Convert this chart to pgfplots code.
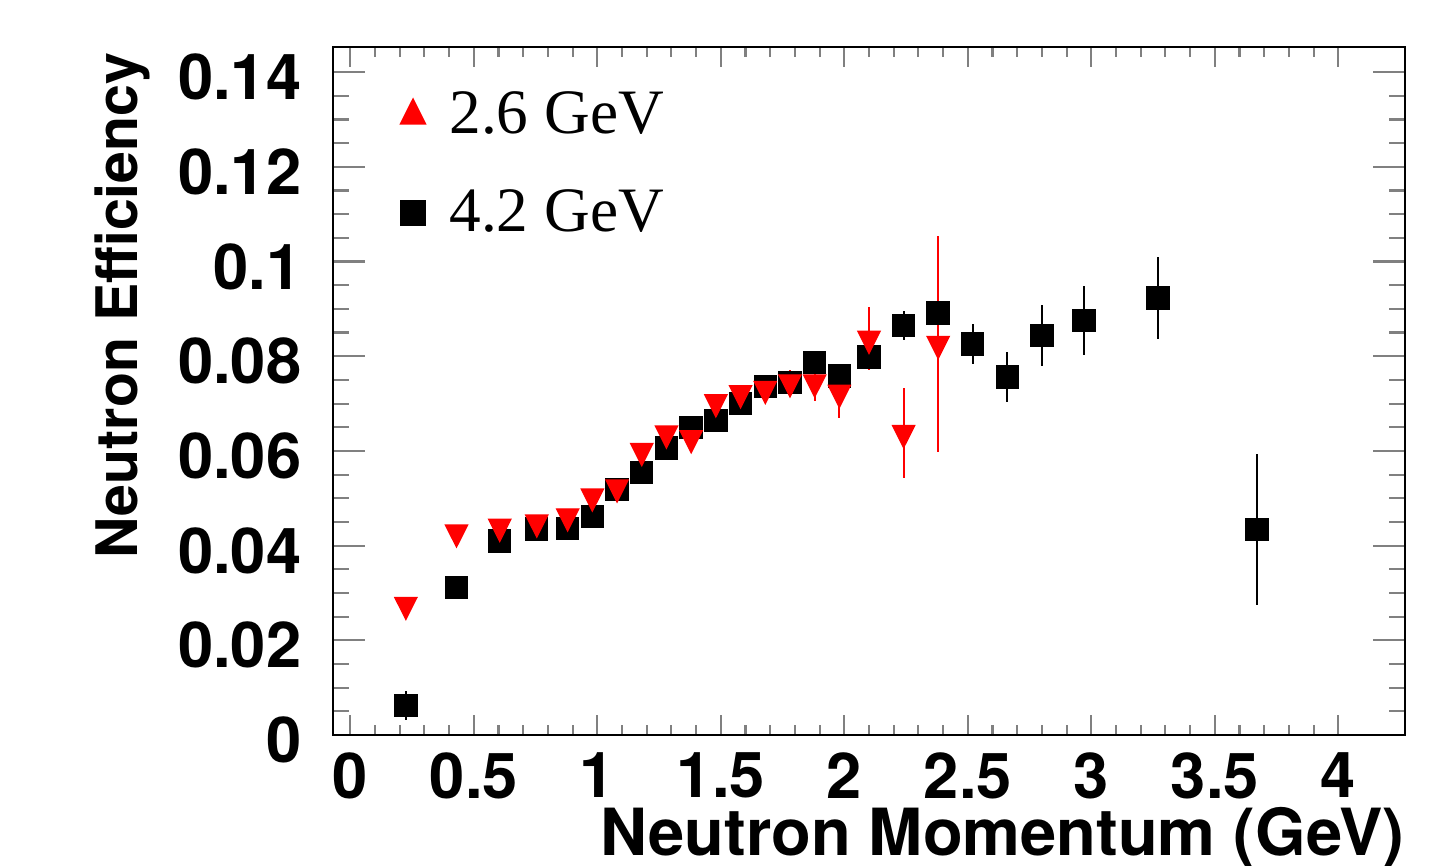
\documentclass[border=0pt]{standalone}
\usepackage{fontspec}
\setmainfont{Liberation Serif}
\setsansfont{TeX Gyre Heros}
\usepackage{pgfplots}
\pgfplotsset{compat=1.18}

\newcommand\lab{\fontsize{18}{21}\selectfont\sffamily\bfseries}

% 4.2 GeV beam
\pgfplotstableread{
x     y       e
0.225 0.0062  0.0030
0.43  0.0311  0.0010
0.605 0.0410  0.0010
0.755 0.0435  0.0010
0.88  0.0436  0.0010
0.98  0.0462  0.0010
1.08  0.0519  0.0010
1.18  0.0554  0.0010
1.28  0.0606  0.0010
1.38  0.0649  0.0010
1.48  0.0664  0.0010
1.58  0.0700  0.0010
1.68  0.0736  0.0010
1.78  0.0745  0.0015
1.88  0.0787  0.0015
1.98  0.0758  0.0020
2.10  0.0798  0.0025
2.24  0.0865  0.0030
2.38  0.0891  0.0030
2.52  0.0826  0.0043
2.66  0.0756  0.0052
2.80  0.0844  0.0065
2.97  0.0875  0.0073
3.27  0.0923  0.0087
3.67  0.0434  0.0160
}\highE

% 2.6 GeV beam
\pgfplotstableread{
x     y       e
0.225 0.0275  0.0010
0.43  0.0428  0.0010
0.605 0.0440  0.0010
0.755 0.0449  0.0010
0.88  0.0462  0.0010
0.98  0.0504  0.0010
1.08  0.0523  0.0010
1.18  0.0600  0.0010
1.28  0.0637  0.0010
1.38  0.0627  0.0010
1.48  0.0703  0.0010
1.58  0.0722  0.0012
1.68  0.0731  0.0020
1.78  0.0745  0.0025
1.88  0.0745  0.0040
1.98  0.0723  0.0053
2.10  0.0837  0.0066
2.24  0.0638  0.0095
2.38  0.0826  0.0228
}\lowE

\begin{document}
\begin{tikzpicture}
\path[use as bounding box] (-3.33,-1.30) rectangle (11.11,7.35);
\begin{axis}[
  at={(0,0)}, anchor=south west,
  scale only axis, width=10.72cm, height=6.88cm,
  xmin=-0.07, xmax=4.27, ymin=0, ymax=0.1453,
  xtick={0,0.5,1,1.5,2,2.5,3,3.5,4},
  xticklabels={0,0.5,1,1.5,2,2.5,3,3.5,4},
  ytick={0,0.02,0.04,0.06,0.08,0.1,0.12,0.14},
  yticklabels={0,0.02,0.04,0.06,0.08,0.1,0.12,0.14},
  minor x tick num=4, minor y tick num=3,
  tick align=inside, tick pos=both,
  axis line style={line width=0.6pt},
  xtick style={line width=0.6pt, /pgfplots/major tick length=0.20cm, /pgfplots/minor tick length=0.10cm},
  ytick style={line width=0.6pt, /pgfplots/major tick length=0.32cm, /pgfplots/minor tick length=0.16cm},
  xticklabel style={font=\lab, anchor=north, inner sep=0pt, yshift=-0.17cm},
  yticklabel style={font=\lab, anchor=east, inner sep=0pt, xshift=-0.31cm, yshift=-0.05cm},
  xlabel={Neutron Momentum (GeV)},
  ylabel={Neutron Efficiency},
  xlabel style={font=\fontsize{18.5}{21}\selectfont\sffamily\bfseries,
    at={(axis description cs:1,-0.1744)}, anchor=base east, inner sep=0pt},
  ylabel style={font=\fontsize{16.3}{20}\selectfont\sffamily\bfseries,
    at={(axis description cs:-0.196,0.993)}, anchor=east, inner sep=0pt},
  legend style={at={(rel axis cs:0.0525,0.956)}, anchor=north west, draw=none, fill=none,
    font=\fontsize{18}{21}\selectfont, row sep=0.36cm,
    /tikz/every odd column/.append style={column sep=0.17cm}},
  legend cell align=left,
]
\addlegendimage{only marks, mark=triangle*, red, mark size=4.1pt, mark options={yscale=1.15}}
\addlegendimage{only marks, mark=square*, black, mark size=3.55pt}

\addplot[only marks, mark=square*, black, mark size=3.13pt, forget plot,
  error bars/.cd, y dir=both, y explicit, error mark=none,
  error bar style={line width=0.6pt, black}]
  table[x=x, y=y, y error=e] {\highE};
\addplot[only marks, mark=triangle*, red, mark size=3.6pt, forget plot,
  mark options={rotate=180, yscale=1.15},
  error bars/.cd, y dir=both, y explicit, error mark=none,
  error bar style={line width=0.6pt, red}]
  table[x=x, y=y, y error=e] {\lowE};
\legend{2.6 GeV, 4.2 GeV}
\end{axis}
\end{tikzpicture}
\end{document}
